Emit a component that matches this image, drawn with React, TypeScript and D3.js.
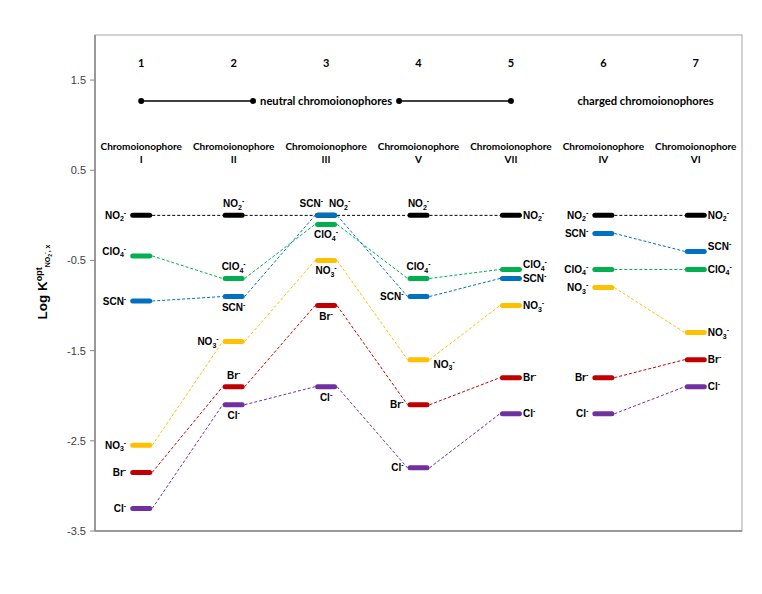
import * as d3 from "d3";

const categories = ["1", "2", "3", "4", "5", "6", "7"];
const chromoNames = ["I", "II", "III", "V", "VII", "IV", "VI"];
const groups = [[0, 1, 2, 3, 4], [5, 6]];

const ions = ["NO2", "ClO4", "SCN", "NO3", "Br", "Cl"];
const NO2 = [0, 0, 0, 0, 0, 0, 0];
const ClO4 = [-0.45, -0.7, -0.1, -0.7, -0.6, -0.6, -0.6];
const SCN = [-0.95, -0.9, 0, -0.9, -0.7, -0.2, -0.4];
const NO3 = [-2.55, -1.4, -0.5, -1.6, -1.0, -0.8, -1.3];
const Br = [-2.85, -1.9, -1.0, -2.1, -1.8, -1.8, -1.6];
const Cl = [-3.25, -2.1, -1.9, -2.8, -2.2, -2.2, -1.9];
const yTicks = [1.5, 0.5, -0.5, -1.5, -2.5, -3.5];

const seriesValues: Record<string, number[]> = { NO2, ClO4, SCN, NO3, Br, Cl };

const colors: Record<string, string> = {
  NO2: "#000000",
  ClO4: "#00B050",
  SCN: "#0070C0",
  NO3: "#FFC000",
  Br: "#C00000",
  Cl: "#7030A0",
};

// label text pieces: [text, kind] where kind is "" | "sub" | "sup"
const labelParts: Record<string, [string, string][]> = {
  NO2: [["NO", ""], ["2", "sub"], ["-", "sup"]],
  ClO4: [["ClO", ""], ["4", "sub"], ["-", "sup"]],
  SCN: [["SCN", ""], ["-", "sup"]],
  NO3: [["NO", ""], ["3", "sub"], ["-", "sup"]],
  Br: [["Br", ""], ["-", "sup"]],
  Cl: [["Cl", ""], ["-", "sup"]],
};

// where each label sits relative to its bar
const labelPos: Record<string, string[]> = {
  NO2: ["l", "t", "tr", "t", "r", "l", "r"],
  ClO4: ["lu", "t", "b", "t", "ru", "l", "r"],
  SCN: ["l", "b", "tl", "l", "r", "l", "ru"],
  NO3: ["l", "l", "b", "rb", "r", "l", "r"],
  Br: ["l", "t", "b", "l", "r", "l", "r"],
  Cl: ["l", "b", "b", "l", "r", "l", "r"],
};

const W = 762;
const H = 594;
const plot = { left: 95, right: 742, top: 35, bottom: 531 };
const ionFont = "Arial, 'Liberation Sans', sans-serif";
const headFont = "Lato, 'Open Sans', sans-serif";

function IonLabel({ ion, x, y, anchor }: { ion: string; x: number; y: number; anchor: string }) {
  const parts = labelParts[ion];
  let offset = 0;
  return (
    <text x={x} y={y} textAnchor={anchor} fontFamily={ionFont} fontWeight="bold" fontSize={10} fill="#000">
      {parts.map(([t, kind], i) => {
        let target = 0;
        if (kind === "sub") target = 2.5;
        if (kind === "sup") target = -4;
        const dy = target - offset;
        offset = target;
        return (
          <tspan key={i} dy={dy} fontSize={kind ? 7 : 10}>
            {t}
          </tspan>
        );
      })}
    </text>
  );
}

export default function App() {
  const x = d3.scaleBand<string>().domain(categories).range([plot.left, plot.right]);
  const y = d3.scaleLinear().domain([-3.5, 2]).range([plot.bottom, plot.top]);
  const cx = (i: number) => (x(categories[i]) ?? 0) + x.bandwidth() / 2;
  const half = 8.5;
  const edge = 11;

  const c3 = cx(2);
  const chargedMid = (cx(5) + cx(6)) / 2 - 4;

  return (
    <svg width={W} height={H} style={{ position: "absolute", left: 0, top: 0, background: "#fff" }}>
      <rect x={0} y={0} width={W} height={H} fill="#fff" />
      {/* plot frame */}
      <rect
        x={plot.left}
        y={plot.top}
        width={plot.right - plot.left}
        height={plot.bottom - plot.top}
        fill="none"
        stroke="#a6a6a6"
        strokeWidth={1}
      />
      <line x1={plot.left} x2={plot.left} y1={plot.top} y2={plot.bottom} stroke="#868686" strokeWidth={1.5} />
      <line x1={plot.left} x2={plot.right} y1={plot.bottom} y2={plot.bottom} stroke="#868686" strokeWidth={1.5} />

      {/* y ticks */}
      {yTicks.map((t) => (
        <g key={t}>
          <line x1={plot.left - 5} x2={plot.left} y1={y(t)} y2={y(t)} stroke="#868686" strokeWidth={1} />
          <text
            x={plot.left - 9}
            y={y(t) + 4}
            textAnchor="end"
            fontFamily={ionFont}
            fontSize={11}
            fill="#404040"
          >
            {t.toFixed(1)}
          </text>
        </g>
      ))}

      {/* y title */}
      <text
        transform={`translate(47, 282) rotate(-90)`}
        textAnchor="middle"
        fontFamily={ionFont}
        fontWeight="bold"
        fontSize={13.5}
        fill="#000"
      >
        <tspan>Log K</tspan>
        <tspan fontSize={9} dy={-5}>opt</tspan>
        <tspan fontSize={7} dy={8}>NO</tspan>
        <tspan fontSize={5} dy={2}>2</tspan>
        <tspan fontSize={5} dy={-5}>-</tspan>
        <tspan fontSize={7} dy={3}>, x</tspan>
      </text>

      {/* header */}
      {categories.map((c, i) => (
        <text key={c} x={cx(i)} y={67} textAnchor="middle" fontFamily={headFont} fontWeight="bold" fontSize={11} fill="#000">
          {c}
        </text>
      ))}
      {chromoNames.map((n, i) => (
        <g key={n}>
          <text x={cx(i)} y={150} textAnchor="middle" fontFamily={headFont} fontWeight="bold" fontSize={10} fill="#000">
            Chromoionophore
          </text>
          <text x={cx(i)} y={163} textAnchor="middle" fontFamily={headFont} fontWeight="bold" fontSize={10} fill="#000">
            {n}
          </text>
        </g>
      ))}
      <g stroke="#000" strokeWidth={1.5} fill="#000">
        <line x1={cx(0)} x2={c3 - 73} y1={101} y2={101} />
        <line x1={c3 + 73} x2={cx(4)} y1={101} y2={101} />
        <circle cx={cx(0)} cy={101} r={3} stroke="none" />
        <circle cx={c3 - 73} cy={101} r={3} stroke="none" />
        <circle cx={c3 + 73} cy={101} r={3} stroke="none" />
        <circle cx={cx(4)} cy={101} r={3} stroke="none" />
      </g>
      <text x={c3} y={105} textAnchor="middle" fontFamily={headFont} fontWeight="bold" fontSize={11.2} fill="#000">
        neutral chromoionophores
      </text>
      <text x={chargedMid} y={105} textAnchor="middle" fontFamily={headFont} fontWeight="bold" fontSize={11.2} fill="#000">
        charged chromoionophores
      </text>

      {/* connecting dashed lines */}
      {ions.map((ion) =>
        groups.map((g, gi) =>
          g.slice(0, -1).map((i) => (
            <line
              key={`${ion}-${gi}-${i}`}
              x1={cx(i) + edge}
              y1={y(seriesValues[ion][i])}
              x2={cx(i + 1) - edge}
              y2={y(seriesValues[ion][i + 1])}
              stroke={colors[ion]}
              strokeWidth={1}
              strokeDasharray="3,2"
            />
          ))
        )
      )}

      {/* level bars */}
      {ions.map((ion) =>
        seriesValues[ion].map((v, i) => (
          <line
            key={`${ion}-bar-${i}`}
            x1={cx(i) - half}
            x2={cx(i) + half}
            y1={y(v)}
            y2={y(v)}
            stroke={colors[ion]}
            strokeWidth={5}
            strokeLinecap="round"
          />
        ))
      )}

      {/* labels */}
      {ions.map((ion) =>
        seriesValues[ion].map((v, i) => {
          const p = labelPos[ion][i];
          const bx = cx(i);
          const by = y(v);
          let lx = bx;
          let ly = by + 3.5;
          let anchor = "middle";
          if (p === "l" || p === "lu") {
            lx = bx - edge - 4;
            anchor = "end";
            if (p === "lu") ly = by - 1;
          } else if (p === "r" || p === "ru" || p === "rb") {
            lx = bx + edge + 1;
            anchor = "start";
            if (p === "ru") ly = by - 1;
            if (p === "rb") {
              lx = bx + edge + 4;
              ly = by + 8;
            }
          } else if (p === "t") {
            ly = by - 8;
          } else if (p === "b") {
            ly = by + 14;
          } else if (p === "tl") {
            lx = bx - 3;
            ly = by - 8;
            anchor = "end";
          } else if (p === "tr") {
            lx = bx + 3;
            ly = by - 8;
            anchor = "start";
          }
          return <IonLabel key={`${ion}-lab-${i}`} ion={ion} x={lx} y={ly} anchor={anchor} />;
        })
      )}
    </svg>
  );
}
